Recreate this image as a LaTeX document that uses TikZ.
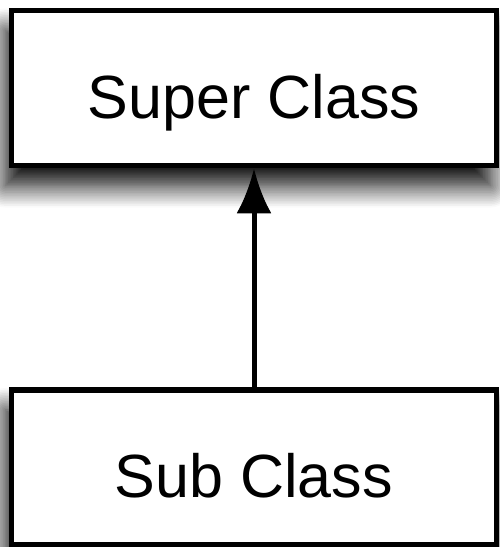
\documentclass[tikz,border=0pt]{standalone}
\usepackage{fontspec}
\setmainfont{Liberation Sans}
\usetikzlibrary{arrows.meta}
\usetikzlibrary{shadows.blur}

\begin{document}
\begin{tikzpicture}[>= {Latex[length=45pt,width=35pt]}, x = 1pt, y = 1pt,
         classbox/.style = {draw, line width = 5.5pt, fill = white, inner sep = 0pt,
           minimum width = 485pt, minimum height = 155pt,
           text height = 75pt, text depth = 15pt,
           font = \fontsize{61}{70}\selectfont,
           blur shadow = {shadow xshift = -6pt, shadow yshift = -20pt,
             shadow blur radius = 22pt, shadow blur steps = 14,
             shadow opacity = 100}}]
         \useasboundingbox (0,0) rectangle (499,-547);
         \node[classbox] (super) at (254,-88) {Super Class};
         \node[classbox] (sub) at (254,-467.5) {Sub Class};
         \draw[->, line width = 5pt] (sub.north) -- (super.south);
        \end{tikzpicture}
\end{document}
